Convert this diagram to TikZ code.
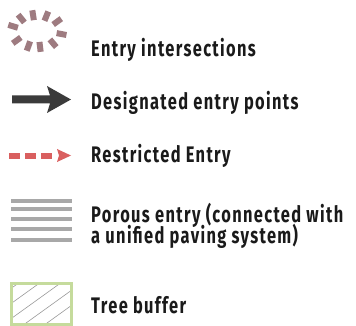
\documentclass[tikz,border=0pt]{standalone}
\usepackage{fontspec}
\setmainfont{Fira Sans}[FakeStretch=0.73, LetterSpace=6]
\definecolor{mauve}{HTML}{9E7B80}
\definecolor{darkarrow}{HTML}{3B3B3B}
\definecolor{restrict}{HTML}{D95F5F}
\definecolor{porous}{HTML}{A8A8A8}
\definecolor{treegreen}{HTML}{C5DB9C}
\definecolor{txt}{HTML}{1A1A1A}
\begin{document}
\begin{tikzpicture}[x=1pt,y=-1pt,
  lbl/.style={anchor=base west, inner sep=0pt, font=\fontsize{22.5}{23}\selectfont\bfseries, text=txt, align=left},
  dashmark/.style={mauve, line width=6pt},
  porousline/.style={porous, line width=4pt},
  hatchline/.style={gray!80, line width=0.6pt}]
\useasboundingbox (0,0) rectangle (356,326);
% entry intersections icon
\foreach \a in {129,99,68,36,-11,-50,-83,-110,-144,163}
  \draw[dashmark] ({37+20*cos(\a)},{31-11*sin(\a)}) -- ({37+30*cos(\a)},{31-21*sin(\a)});
% designated entry arrow
\fill[darkarrow] (12,95.5) -- (50,95.5) -- (47,86) -- (71,99.5) -- (47,113) -- (50,103.5) -- (12,103.5) -- cycle;
% restricted entry
\coordinate (rs) at (9,156);
\coordinate (re) at (52,156);
\draw[restrict, line width=5pt, dash pattern=on 11pt off 5pt] (rs) -- (re);
\fill[restrict] (57,149) -- (71,155.5) -- (57,162) -- (59,155.5) -- cycle;
% porous lines
\foreach \y in {200.7,208.8,218.8,229.2,239.7}
  \draw[porousline] (11,\y) -- (72,\y);
% tree buffer
\begin{scope}
  \clip (11.5,283.5) rectangle (71.5,324.5);
  \foreach \x in {-5,16,37,58,79}
    \draw[hatchline] (\x-40,328.8) -- (\x+40,271.2);
\end{scope}
\draw[treegreen, line width=3pt] (11.5,283.5) rectangle (71.5,324.5);
% labels
\node[lbl] (t1) at (91,57) {Entry intersections};
\node[lbl] (t2) at (91,110) {Designated entry points};
\node[lbl] (t3) at (91,162) {Restricted Entry};
\node[lbl] (t4) at (91,222) {Porous entry (connected with};
\node[lbl] (t5) at (91,243) {a unified paving system)};
\node[lbl] (t6) at (91,313) {Tree buffer};
\end{tikzpicture}
\end{document}
